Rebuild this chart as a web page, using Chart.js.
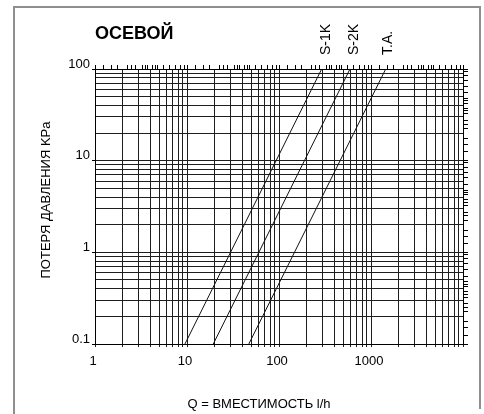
<!DOCTYPE html>
<html><head><meta charset="utf-8">
<script src="https://cdn.jsdelivr.net/npm/chart.js@4/dist/chart.umd.min.js"></script>
<style>html,body{margin:0;padding:0;background:#fff}canvas{display:block}</style>
</head><body>
<canvas id="c" width="484" height="414"></canvas>
<script>
const chartTitle = 'ОСЕВОЙ';
const xAxisTitle = 'Q = ВМЕСТИМОСТЬ l/h';
const yAxisTitle = 'ПОТЕРЯ ДАВЛЕНИЯ KPa';
const seriesNames = ['S-1K', 'S-2K', 'T.A.'];
const pressure = [0.1, 100];
const flowS1K = [9.5, 291];
const flowS2K = [19.3, 591];
const flowTA = [47, 1445];
const labelFlow = [325, 655, 1530];
const xMajor = [1, 10, 100, 1000, 10000];
const yMajor = [0.1, 1, 10, 100];
const xTickLabels = ['1', '10', '100', '1000'];
const yTickLabels = ['0.1', '1', '10', '100'];
const minorMult = [1, 2, 3, 4, 5, 6, 7, 8, 9];
const edgeTickMult = [1, 1.25, 1.5, 1.75, 2.25, 2.5, 2.75, 3.25, 3.5, 3.75, 4.25, 4.5, 4.75, 5.5, 6.5, 7.5, 8.5, 9.5];

function gridValues(majors, mults) {
  const out = [];
  for (let i = 0; i < majors.length - 1; i++) mults.forEach(m => out.push(majors[i] * m));
  out.push(majors[majors.length - 1]);
  return out;
}
const xGrid = gridValues(xMajor, minorMult);
const yGrid = gridValues(yMajor, minorMult);
const xEdge = gridValues(xMajor, edgeTickMult);
const yEdge = gridValues(yMajor, edgeTickMult);
function labelFor(majors, labels, v) {
  const i = majors.findIndex(m => Math.abs(m - v) / m < 1e-6);
  return (i >= 0 && i < labels.length) ? labels[i] : '';
}
function isMajor(majors, v) { return majors.some(m => Math.abs(m - v) / m < 1e-6); }
const setTicks = vals => s => { s.ticks = vals.map(v => ({ value: v })); };
const FONT = "'Liberation Sans', Arial, sans-serif";
Chart.defaults.font.family = FONT;
Chart.defaults.color = '#000';

const mk = (flows) => flows.map((q, i) => ({ x: q, y: pressure[i] }));
const lineColor = '#111';
const gridColor = '#1e1e1e';

const decor = {
  id: 'decor',
  afterDraw(chart) {
    const ctx = chart.ctx, ca = chart.chartArea, xs = chart.scales.x;
    ctx.save();
    ctx.strokeStyle = '#8f8f8f'; ctx.lineWidth = 2;
    ctx.beginPath(); ctx.moveTo(14, 414); ctx.lineTo(14, 7); ctx.lineTo(480, 7); ctx.lineTo(480, 409); ctx.stroke();
    ctx.fillStyle = '#000';
    ctx.font = "bold 18px " + FONT; ctx.textAlign = 'left'; ctx.textBaseline = 'alphabetic';
    ctx.fillText(chartTitle, ca.left, 39);
    ctx.font = "14px " + FONT; ctx.textBaseline = 'middle';
    seriesNames.forEach((n, i) => {
      ctx.save();
      ctx.translate(xs.getPixelForValue(labelFlow[i]), ca.top - 14);
      ctx.rotate(-Math.PI / 2);
      ctx.fillText(n, 0, 0);
      ctx.restore();
    });
    ctx.font = "13px " + FONT; ctx.textAlign = 'center';
    ctx.fillText(xAxisTitle, 259, 404);
    ctx.save(); ctx.translate(46, 200); ctx.rotate(-Math.PI / 2); ctx.fillText(yAxisTitle, 0, 0); ctx.restore();
    ctx.restore();
  }
};

new Chart(document.getElementById('c'), {
  type: 'line',
  data: {
    datasets: [
      { label: seriesNames[0], data: mk(flowS1K) },
      { label: seriesNames[1], data: mk(flowS2K) },
      { label: seriesNames[2], data: mk(flowTA) }
    ].map(d => Object.assign(d, { borderColor: lineColor, borderWidth: 1, pointRadius: 0, fill: false, tension: 0 }))
  },
  options: {
    responsive: false, animation: false,
    layout: { padding: 0 },
    plugins: { legend: { display: false }, tooltip: { enabled: false } },
    scales: {
      x: {
        type: 'logarithmic', position: 'bottom', min: 1, max: 10000,
        afterBuildTicks: setTicks(xGrid),
        afterFit: s => { s.height = 70; },
        ticks: { autoSkip: false, maxRotation: 0, padding: 7, labelOffset: -2, font: { size: 13 },
          callback: v => labelFor(xMajor, xTickLabels, v) },
        grid: { color: gridColor, lineWidth: 1, tickLength: 3 },
        border: { display: true, color: '#000', width: 1 }
      },
      x2: {
        type: 'logarithmic', position: 'top', min: 1, max: 10000,
        afterBuildTicks: setTicks(xEdge),
        afterFit: s => { s.height = 69; },
        ticks: { autoSkip: false, maxRotation: 0, callback: () => '' },
        grid: { drawOnChartArea: false, color: '#000', tickLength: 4 },
        border: { display: true, color: '#000', width: 1 }
      },
      y: {
        type: 'logarithmic', position: 'left', min: 0.1, max: 100,
        afterBuildTicks: setTicks(yGrid),
        afterFit: s => { s.width = 95; },
        ticks: { autoSkip: false, padding: 2, labelOffset: -5, font: { size: 13 },
          callback: v => labelFor(yMajor, yTickLabels, v) },
        grid: { color: gridColor, lineWidth: 1, tickLength: 3,
          tickColor: c => (c.tick && isMajor(yMajor, c.tick.value)) ? '#000' : 'rgba(0,0,0,0)' },
        border: { display: true, color: '#000', width: 1 }
      },
      y2: {
        type: 'logarithmic', position: 'right', min: 0.1, max: 100,
        afterBuildTicks: setTicks(yEdge),
        afterFit: s => { s.width = 21; },
        ticks: { autoSkip: false, callback: () => '' },
        grid: { drawOnChartArea: false, color: '#000', tickLength: 5 },
        border: { display: true, color: '#000', width: 1 }
      }
    }
  },
  plugins: [decor]
});
</script>
</body></html>
